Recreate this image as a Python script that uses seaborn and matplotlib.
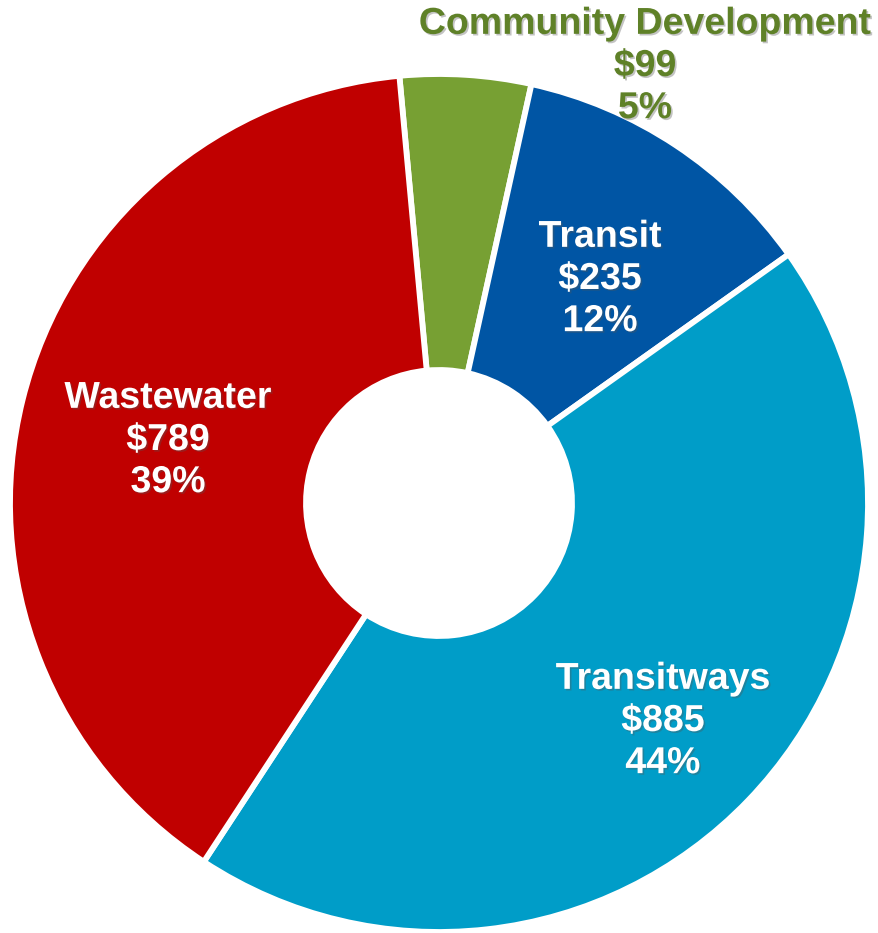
import numpy as np
import matplotlib
matplotlib.use("Agg")
import matplotlib.pyplot as plt
import matplotlib.patheffects as pe
import seaborn as sns

categories = ["Community Development", "Transit", "Transitways", "Wastewater"]
amounts = [99, 235, 885, 789]
colors = ["#77A033", "#0055A4", "#009DC8", "#C00000"]
label_colors = ["#5F8128", "white", "white", "white"]
# label anchor positions in pixels (x from left, y from top)
label_pos = [(645, 66), (600, 279), (663, 721), (168, 440)]

sns.set_theme(style="white")
plt.rcParams["font.family"] = ["Liberation Sans", "DejaVu Sans"]

W, H = 879, 933
fig = plt.figure(figsize=(W / 100, H / 100), dpi=100)
ax = fig.add_axes([0, 0, 1, 1])

cx, cy, R = 439, H - 503, 429
hole = 0.31
wedges, _ = ax.pie(amounts, colors=colors, startangle=95.3, counterclock=False,
                   center=(cx, cy), radius=R,
                   wedgeprops=dict(width=R * (1 - hole), edgecolor="white", linewidth=4.2))
ax.set_xlim(0, W)
ax.set_ylim(0, H)
ax.set_aspect("equal")
ax.axis("off")

total = sum(amounts)
shadow = [pe.SimplePatchShadow(offset=(1.2, -1.2), shadow_rgbFace="#555555", alpha=0.35), pe.Normal()]
for i, (name, amt) in enumerate(zip(categories, amounts)):
    txt = f"{name}\n${amt}\n{round(100 * amt / total)}%"
    px, py = label_pos[i]
    t = ax.text(px, H - py, txt, ha="center", va="center", fontsize=27, fontweight="bold",
                color=label_colors[i], linespacing=1.22)
    t.set_path_effects(shadow)

fig.savefig("out.png", dpi=100)
